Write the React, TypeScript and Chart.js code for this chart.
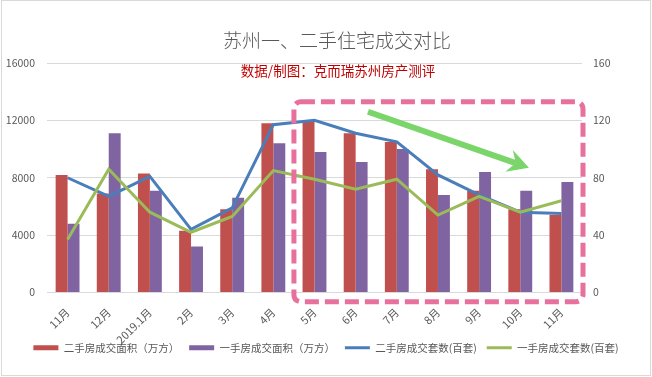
import React, { useEffect, useRef } from "react";
import { Chart, registerables } from "chart.js";

Chart.register(...registerables);

const categories = ["11月", "12月", "2019.1月", "2月", "3月", "4月", "5月", "6月", "7月", "8月", "9月", "10月", "11月"];
const secondHandArea = [8200, 6900, 8300, 4300, 5800, 11800, 11900, 11100, 10500, 8600, 7100, 5800, 5400];
const firstHandArea = [4800, 11100, 7100, 3200, 6600, 10400, 9800, 9100, 10000, 6800, 8400, 7100, 7700];
const secondHandUnits = [80, 67, 81, 44, 59, 117, 120, 111, 105, 82, 68, 56, 55];
const firstHandUnits = [37, 86, 56, 42, 53, 85, 79, 72, 79, 54, 67, 56, 64];
const seriesNames = ["二手房成交面积（万方）", "一手房成交面积（万方）", "二手房成交套数(百套)", "一手房成交套数(百套)"];
const titleText = "苏州一、二手住宅成交对比";
const subtitleText = "数据/制图：克而瑞苏州房产测评";

// annotation anchors in data space (category index, left-axis value)
const boxFrom = { index: 5.5, value: 13300 };
const boxTo = { index: 12.5, value: -640 };
const arrowFrom = { index: 7.3, value: 12600 };
const arrowTo = { index: 11.21, value: 8700 };

const FONT = '"Noto Sans CJK SC", "Noto Sans", sans-serif';
const GRAY = "#595959";

const decorPlugin = {
  id: "decor",
  beforeDraw(chart: any) {
    const { ctx, width, height } = chart;
    ctx.save();
    ctx.fillStyle = "#ffffff";
    ctx.fillRect(0, 0, width, height);
    ctx.strokeStyle = "#d9d9d9";
    ctx.lineWidth = 1;
    ctx.strokeRect(1.5, 0.5, width - 3, height - 2);
    ctx.restore();
  },
  afterDraw(chart: any) {
    const { ctx } = chart;
    const xs = chart.scales.x;
    const ys = chart.scales.y;
    ctx.save();
    // titles
    ctx.textAlign = "center";
    ctx.textBaseline = "middle";
    ctx.fillStyle = GRAY;
    ctx.font = `300 19px ${FONT}`;
    ctx.fillText(titleText, 337, 41);
    ctx.fillStyle = "#c00000";
    ctx.font = `13.5px ${FONT}`;
    ctx.fillText(subtitleText, 338, 70.5);

    // dashed highlight box
    const step = xs.getPixelForValue(1) - xs.getPixelForValue(0);
    const px = (i: number) => xs.getPixelForValue(0) + i * step;
    const l = px(boxFrom.index);
    const r = px(boxTo.index) + 1;
    const t = ys.getPixelForValue(boxFrom.value);
    const b = ys.getPixelForValue(boxTo.value);
    const rad = 7;
    ctx.strokeStyle = "#e8709c";
    ctx.lineWidth = 5;
    ctx.setLineDash([14, 6]);
    ctx.beginPath();
    ctx.moveTo(l + rad, t);
    ctx.lineTo(r - rad, t);
    ctx.arcTo(r, t, r, t + rad, rad);
    ctx.lineTo(r, b - rad);
    ctx.arcTo(r, b, r - rad, b, rad);
    ctx.lineTo(l + rad, b);
    ctx.arcTo(l, b, l, b - rad, rad);
    ctx.lineTo(l, t + rad);
    ctx.arcTo(l, t, l + rad, t, rad);
    ctx.closePath();
    ctx.stroke();
    ctx.setLineDash([]);

    // green arrow
    const x1 = px(arrowFrom.index);
    const y1 = ys.getPixelForValue(arrowFrom.value);
    const x2 = px(arrowTo.index);
    const y2 = ys.getPixelForValue(arrowTo.value);
    const ang = Math.atan2(y2 - y1, x2 - x1);
    const ux = Math.cos(ang), uy = Math.sin(ang);
    const nx = -uy, ny = ux;
    const headLen = 21, headHalf = 11.5, notch = 14;
    ctx.strokeStyle = "#7bd56b";
    ctx.fillStyle = "#7bd56b";
    ctx.lineWidth = 6;
    ctx.beginPath();
    ctx.moveTo(x1, y1);
    ctx.lineTo(x2 - ux * notch, y2 - uy * notch);
    ctx.stroke();
    ctx.beginPath();
    ctx.moveTo(x2, y2);
    ctx.lineTo(x2 - ux * headLen - nx * headHalf, y2 - uy * headLen - ny * headHalf);
    ctx.lineTo(x2 - ux * notch, y2 - uy * notch);
    ctx.lineTo(x2 - ux * headLen + nx * headHalf, y2 - uy * headLen + ny * headHalf);
    ctx.closePath();
    ctx.fill();
    ctx.restore();
  },
};

export default function App() {
  const canvasRef = useRef<HTMLCanvasElement | null>(null);

  useEffect(() => {
    document.body.style.margin = "0";
    const canvas = canvasRef.current;
    if (!canvas) return;
    const chart = new Chart(canvas, {
      type: "bar",
      data: {
        labels: categories,
        datasets: [
          {
            type: "bar",
            label: seriesNames[0],
            data: secondHandArea,
            backgroundColor: "#c0504d",
            borderWidth: 0,
            yAxisID: "y",
            order: 2,
            categoryPercentage: 0.58,
            barPercentage: 1,
          },
          {
            type: "bar",
            label: seriesNames[1],
            data: firstHandArea,
            backgroundColor: "#8064a2",
            borderWidth: 0,
            yAxisID: "y",
            order: 2,
            categoryPercentage: 0.58,
            barPercentage: 1,
          },
          {
            type: "line",
            label: seriesNames[2],
            data: secondHandUnits,
            borderColor: "#4a7ebb",
            backgroundColor: "#4a7ebb",
            borderWidth: 3,
            pointRadius: 0,
            tension: 0,
            yAxisID: "y1",
            order: 1,
          },
          {
            type: "line",
            label: seriesNames[3],
            data: firstHandUnits,
            borderColor: "#9bbb59",
            backgroundColor: "#9bbb59",
            borderWidth: 3,
            pointRadius: 0,
            tension: 0,
            yAxisID: "y1",
            order: 0,
          },
        ],
      } as any,
      options: {
        responsive: false,
        maintainAspectRatio: false,
        animation: false,
        layout: { padding: { top: 63, left: 0, right: 0, bottom: 14 } },
        plugins: {
          title: { display: false },
          tooltip: { enabled: false },
          legend: {
            position: "bottom",
            labels: {
              usePointStyle: true,
              pointStyleWidth: 25,
              boxHeight: 5,
              padding: 10,
              color: GRAY,
              font: { size: 10.5, family: FONT },
              sort: (a: any, b: any) => a.datasetIndex - b.datasetIndex,
              generateLabels: (chart: any) => {
                const items = Chart.defaults.plugins.legend.labels.generateLabels(chart);
                return items.map((it: any) => {
                  const ds = chart.data.datasets[it.datasetIndex];
                  if (ds.type === "bar") {
                    return { ...it, pointStyle: "rect", fillStyle: ds.backgroundColor, lineWidth: 0 };
                  }
                  return { ...it, pointStyle: "line", strokeStyle: ds.borderColor, lineWidth: 3 };
                });
              },
            },
          },
        },
        scales: {
          x: {
            grid: { display: false },
            border: { display: false },
            ticks: {
              color: GRAY,
              font: { size: 11, family: FONT },
              minRotation: 45,
              maxRotation: 45,
              padding: 5,
              autoSkip: false,
            },
            afterFit: (s: any) => {
              s.height = 40;
              // let the long rotated labels run past the axis box, as in the source
              s._computeLabelArea = () => undefined;
            },
          },
          y: {
            position: "left",
            min: 0,
            max: 16000,
            grid: { color: "#d9d9d9", drawTicks: false },
            border: { display: false },
            ticks: {
              stepSize: 4000,
              padding: 12,
              color: GRAY,
              font: { size: 10.5, family: FONT },
              callback: (v: any) => String(v),
            },
            afterFit: (s: any) => {
              s.width = 47;
            },
          },
          y1: {
            position: "right",
            min: 0,
            max: 160,
            grid: { display: false, drawTicks: false },
            border: { display: false },
            ticks: {
              stepSize: 40,
              padding: 11,
              color: GRAY,
              font: { size: 10.5, family: FONT },
              callback: (v: any) => String(v),
            },
            afterFit: (s: any) => {
              s.width = 70;
            },
          },
        },
      } as any,
      plugins: [decorPlugin],
    });
    return () => chart.destroy();
  }, []);

  return (
    <div style={{ position: "absolute", left: 0, top: 0, width: 652, height: 377 }}>
      <canvas ref={canvasRef} width={652} height={377} style={{ width: 652, height: 377, display: "block" }} />
    </div>
  );
}
